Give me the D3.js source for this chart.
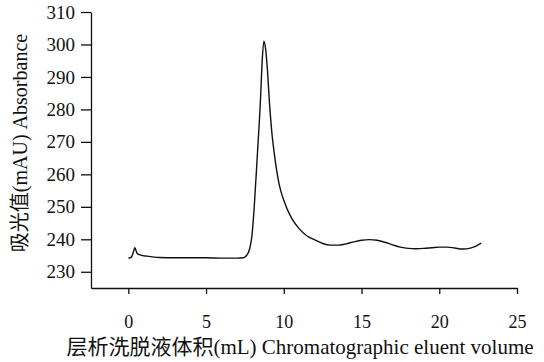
<!DOCTYPE html>
<html><head><meta charset="utf-8">
<script src="https://cdn.jsdelivr.net/npm/d3@7"></script>
<style>body{margin:0;background:#fff}svg{display:block}</style>
</head><body>
<svg id="c" width="544" height="362"></svg>
<script>
const volume = [0.0,0.2,0.35,0.42,0.55,0.8,1.2,2.0,3.0,4.0,5.0,6.0,7.0,7.4,7.6,7.8,7.95,8.1,8.3,8.5,8.6,8.72,8.82,8.95,9.08,9.25,9.4,9.7,10.0,10.5,11.0,11.5,12.0,12.5,13.0,13.5,14.0,14.5,15.0,15.5,16.0,16.5,17.0,17.5,18.0,18.5,19.0,19.5,20.0,20.5,21.0,21.5,22.0,22.4,22.7];
const absorbance = [234.2,234.5,236.5,237.4,235.8,235.1,234.8,234.4,234.3,234.3,234.3,234.2,234.2,234.3,235.0,237.0,241.0,250.0,266.0,283.0,294.0,301.0,299.0,292.0,282.0,272.0,266.0,257.0,252.0,246.5,243.2,241.0,239.8,238.7,238.2,238.2,238.6,239.2,239.7,239.9,239.7,239.1,238.3,237.6,237.2,237.1,237.2,237.4,237.6,237.6,237.3,237.0,237.3,238.0,238.8];
const xTicks = [0,5,10,15,20,25];
const yTicks = [230,240,250,260,270,280,290,300,310];

const serif = "Liberation Serif";
const cjk = "Noto Sans CJK SC";
const svg = d3.select("#c");
const x = d3.scaleLinear().domain([-2.4,25]).range([91,517]);
const y = d3.scaleLinear().domain([225,310]).range([288,12]);

const xa = svg.append("g").attr("transform","translate(0,288)")
  .call(d3.axisBottom(x).tickValues(xTicks).tickSizeInner(6).tickSizeOuter(0).tickPadding(21).tickFormat(d3.format("d")));
const ya = svg.append("g").attr("transform","translate(91,0)")
  .call(d3.axisLeft(y).tickValues(yTicks).tickSizeInner(10).tickSizeOuter(0).tickPadding(6).tickFormat(d3.format("d")));
[xa,ya].forEach(a=>{
  a.attr("font-family",serif).attr("font-size",19);
  a.selectAll("path,line").attr("stroke","#111").attr("stroke-width",1.3);
  a.selectAll("text").attr("font-family",serif).attr("font-size",19).attr("fill","#111");
});
xa.selectAll("text").attr("font-size",18);

svg.append("path").datum(volume.map((v,i)=>[v,absorbance[i]]))
  .attr("fill","none").attr("stroke","#111").attr("stroke-width",1.4)
  .attr("d",d3.line().x(d=>x(d[0])).y(d=>y(d[1])).curve(d3.curveMonotoneX));

const yt = svg.append("text").attr("transform","translate(27,143) rotate(-90)")
  .attr("text-anchor","middle").attr("fill","#111").attr("font-size",20);
yt.append("tspan").attr("font-family",cjk).text("吸光值");
yt.append("tspan").attr("font-family",serif).text("(mAU) Absorbance");

const xt = svg.append("text").attr("x",300).attr("y",354)
  .attr("text-anchor","middle").attr("fill","#111").attr("font-size",21);
xt.append("tspan").attr("font-family",cjk).text("层析洗脱液体积");
xt.append("tspan").attr("font-family",serif).text("(mL) Chromatographic eluent volume");
</script>
</body></html>
